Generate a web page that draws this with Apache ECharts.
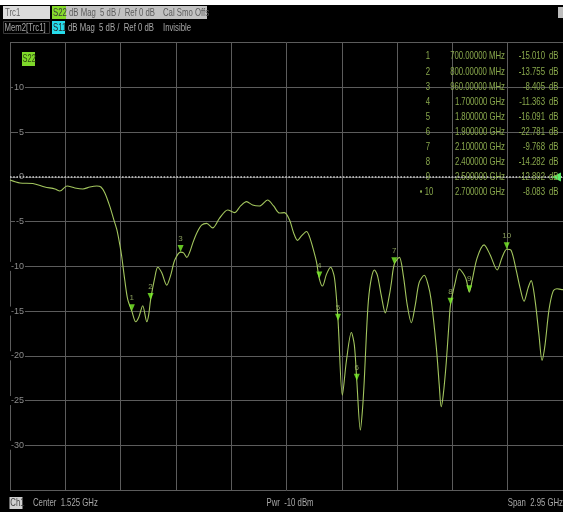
<!DOCTYPE html>
<html><head><meta charset="utf-8">
<script src="https://cdn.jsdelivr.net/npm/echarts@6/dist/echarts.min.js"></script>
<style>html,body{margin:0;padding:0;background:#000;overflow:hidden}#c{width:563px;height:512px;}</style>
</head><body><div id="c"></div>
<script>
// ---- data ----
const traceFreqGHz = [0.05,0.103,0.172,0.236,0.290,0.316,0.354,0.396,0.439,0.476,0.513,0.535,0.556,0.583,0.604,0.620,0.636,0.646,0.662,0.678,0.700,0.721,0.737,0.758,0.780,0.790,0.800,0.822,0.838,0.859,0.886,0.907,0.929,0.960,0.976,0.993,1.009,1.025,1.046,1.072,1.099,1.131,1.168,1.211,1.248,1.280,1.312,1.344,1.381,1.424,1.456,1.488,1.514,1.541,1.562,1.584,1.605,1.632,1.648,1.664,1.685,1.700,1.717,1.738,1.760,1.781,1.800,1.823,1.845,1.871,1.887,1.900,1.919,1.930,1.940,1.951,1.962,1.978,1.994,2.010,2.031,2.052,2.074,2.084,2.100,2.127,2.148,2.169,2.191,2.212,2.233,2.260,2.281,2.297,2.324,2.340,2.350,2.361,2.377,2.393,2.400,2.425,2.446,2.468,2.484,2.500,2.516,2.542,2.579,2.611,2.649,2.675,2.700,2.723,2.750,2.771,2.792,2.814,2.830,2.851,2.872,2.888,2.904,2.925,2.947,2.968,2.994,3.000];
const traceDb = [-0.35,-0.68,-0.74,-1.13,-1.35,-1.58,-1.02,-1.24,-1.35,-1.13,-1.02,-1.13,-1.8,-3.33,-4.8,-5.9,-7.6,-8.9,-11.5,-13.7,-15.01,-16.2,-15.7,-14.4,-16.2,-15.4,-13.755,-11.3,-10.1,-10.7,-12.1,-11.0,-9.3,-8.405,-8.5,-9.0,-8.4,-7.4,-6.3,-5.4,-5.2,-5.7,-4.6,-3.7,-4.0,-3.25,-2.77,-3.14,-3.25,-2.58,-3.25,-4.04,-4.0,-4.8,-6.2,-7.1,-6.6,-6.1,-6.7,-7.8,-9.5,-11.363,-12.2,-10.9,-10.1,-11.3,-16.091,-24.4,-20.5,-17.4,-18.8,-22.781,-28.3,-26.1,-22.7,-17.7,-13.8,-11.3,-10.4,-11.0,-13.3,-15.2,-13.2,-11.9,-9.768,-9.0,-11.0,-14.3,-16.3,-14.3,-11.8,-11.0,-12.1,-13.8,-19.0,-23.3,-25.7,-24.4,-20.8,-16.0,-14.282,-11.8,-10.3,-10.8,-11.5,-12.892,-11.5,-9.05,-7.6,-8.7,-10.4,-9.0,-8.083,-8.2,-10.4,-12.4,-13.9,-12.4,-11.6,-13.8,-17.7,-20.5,-18.8,-14.9,-12.8,-12.5,-12.6,-12.6];

const markerIds = ['1','2','3','4','5','6','7','8','9','10'];
const markerFreqGHz = [0.7,0.8,0.96,1.7,1.8,1.9,2.1,2.4,2.5,2.7];
const markerFreqText = ['700.00000 MHz','800.00000 MHz','960.00000 MHz','1.700000 GHz','1.800000 GHz','1.900000 GHz','2.100000 GHz','2.400000 GHz','2.500000 GHz','2.700000 GHz'];
const markerDb = [-15.010,-13.755,-8.405,-11.363,-16.091,-22.781,-9.768,-14.282,-12.892,-8.083];
const markerValueText = ['-15.010','-13.755','-8.405','-11.363','-16.091','-22.781','-9.768','-14.282','-12.892','-8.083'];

const startGHz = 0.05, stopGHz = 3.0;
const yMin = -35, yMax = 15, yStep = 5;
const hiddenYLabels = [15, -35];

// ---- chart ----
const FONT = '"Liberation Sans",Arial,sans-serif';
const SX = 0.74;
const GRID = {left:10, top:42.7, width:554, height:447.3};
const chart = echarts.init(document.getElementById('c'), null, {renderer:'canvas'});

const g = [];
function txt(text, x, y, fill, size, align){
  g.push({type:'text', silent:true, z:100, x:x, y:y, scaleX:SX, scaleY:1,
    style:{text, x:0, y:0, fill, font: (size||10.5)+'px '+FONT, textAlign: align||'left', textVerticalAlign:'middle'}});
}
function rect(x,y,w,h,fill,stroke){
  g.push({type:'rect', silent:true, z:99, shape:{x,y,width:w,height:h}, style:{fill: fill||'none', stroke: stroke||null, lineWidth:1}});
}
// top white band
rect(0,0,563,5,'#ffffff');
// header row 1
rect(3,6,47,13,'#dcdcdc');
txt('Trc1',5,12.7,'#666');
rect(52,6,14,13,'#86dc2c');
txt('S22',53,12.7,'#3a3a3a');
rect(66,6,141,13,'#c2c2c2');
txt('dB Mag  5 dB /  Ref 0 dB',69,12.7,'#5c5c5c');
txt('Cal Smo Offs',163,12.7,'#5c5c5c');
// header row 2
rect(3.5,21.5,46,12,null,'#3a3a3a');
txt('Mem2[Trc1]',4.5,27.7,'#a8a8a8');
rect(52,21,13,13,'#26dceb');
txt('S11',53,27.7,'#2a2a2a');
txt('dB Mag  5 dB /  Ref 0 dB',68,27.7,'#a8a8a8');
txt('Invisible',163,27.7,'#a8a8a8');
// top-right icon
rect(558,7,6,11,'#bdbdbd');
// S22 tag in plot
rect(22,52,13,14,'#7fd82a');
txt('S22',22.6,59,'#2f4a10',10);
// marker table
const tableColor = '#89a84c';
markerIds.forEach((id,i)=>{
  const y = 56.6 + 15.05*i;
  if (i===9) { txt('\u2022',421,y,tableColor,10,'center'); txt('10',429,y,tableColor,10.5,'center'); }
  else txt(id, 428, y, tableColor, 10.5, 'center');
  txt(markerFreqText[i], 505, y, tableColor, 10.5, 'right');
  txt(markerValueText[i], 545, y, tableColor, 10.5, 'right');
  txt('dB', 549, y, tableColor, 10.5, 'left');
});
// footer
rect(9.5,497,13,12,'#d0d0d0');
txt('Ch1',10.3,503.5,'#444');
txt('Center  1.525 GHz',33,503.5,'#a8a8a8');
txt('Pwr  -10 dBm',290,503.5,'#a8a8a8',10.5,'center');
txt('Span  2.95 GHz',563,503.5,'#a8a8a8',10.5,'right');

const gridLine = {show:true, lineStyle:{color:'#5c5c5c', width:1, type:'solid'}};

chart.setOption({
  backgroundColor:'#000',
  animation:false,
  grid: GRID,
  xAxis:[
    {type:'value', min:startGHz, max:stopGHz, show:true, axisLine:{show:false}, axisTick:{show:false}, axisLabel:{show:false}, splitLine:{show:false}},
    {type:'value', min:0, max:10, interval:1, position:'bottom', axisLine:{show:false}, axisTick:{show:false}, axisLabel:{show:false}, splitLine:gridLine}
  ],
  yAxis:{type:'value', min:yMin, max:yMax, interval:yStep,
    axisLine:{show:false}, axisTick:{show:false}, splitLine:gridLine,
    axisLabel:{show:true, margin:-15, color:'#8c8c8c', fontSize:9, fontFamily:'"Liberation Sans",Arial,sans-serif', backgroundColor:'#000', padding:[0,1],
      formatter: v => hiddenYLabels.includes(v) ? '' : String(v)}},
  series:[
    {type:'line', xAxisIndex:0, data: traceFreqGHz.map((f,i)=>[f, traceDb[i]]),
      showSymbol:false, smooth:0.3, clip:true,
      lineStyle:{color:'#a3c65e', width:1.1}, z:5,
      markLine:{silent:true, symbol:'none', label:{show:false},
        lineStyle:{color:'#d0d0d0', type:'dotted', width:1.6}, data:[{yAxis:0}]},
      markPoint:{silent:true, symbol:'triangle', symbolRotate:90, symbolSize:[9,9],
        itemStyle:{color:'#5cf06a'}, label:{show:false}, data:[{coord:[2.965,0]}]}
    },
    {type:'scatter', xAxisIndex:0, data: markerFreqGHz.map((f,i)=>[f, markerDb[i], markerIds[i]]),
      symbol:'triangle', symbolRotate:180, symbolSize:[6,7], symbolOffset:[0,-3.5],
      itemStyle:{color:'#7cf22a'}, z:10,
      label:{show:true, position:'top', distance:2, formatter: p => p.data[2], color:'#a8c070', fontSize:8, fontFamily:'"Liberation Sans",Arial,sans-serif'}}
  ],
  graphic: g
});
</script></body></html>
